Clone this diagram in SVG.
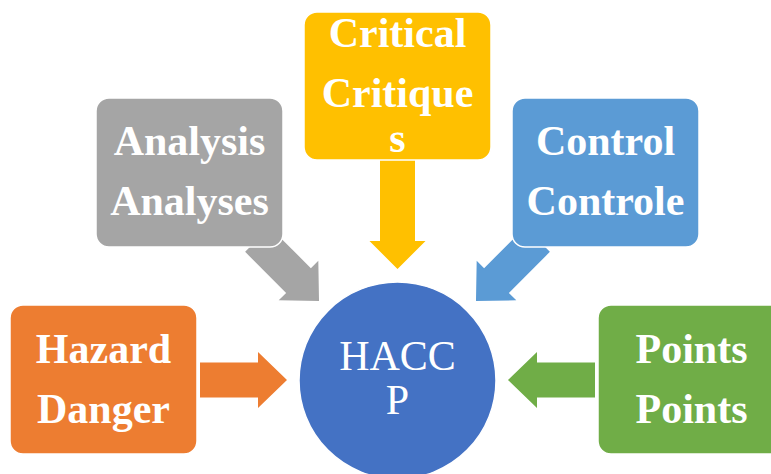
<svg xmlns="http://www.w3.org/2000/svg" width="771" height="474" viewBox="0 0 771 474">
  <style>
    .box { stroke: #ffffff; stroke-width: 1.5; }
    .lbl { font-family: "Liberation Serif", "Times New Roman", serif; font-weight: bold; font-size: 42px; fill: #ffffff; text-anchor: middle; }
    .hub { font-family: "Liberation Serif", "Times New Roman", serif; font-size: 42px; fill: #ffffff; text-anchor: middle; }
  </style>
  <defs>
    <!-- block arrow pointing along +x, 87 long -->
    <polygon id="blockArrow" points="0,-17.5 58,-17.5 58,-28 87,0 58,28 58,17.5 0,17.5"/>
  </defs>
  <rect width="771" height="474" fill="#ffffff"/>

  <g id="connectors">
    <use href="#blockArrow" fill="#ED7D31" transform="translate(200,380)"/>
    <use href="#blockArrow" fill="#70AD47" transform="translate(595,380) rotate(180)"/>
    <use href="#blockArrow" fill="#A5A5A5" transform="translate(257.5,239.5) rotate(45)"/>
    <use href="#blockArrow" fill="#5B9BD5" transform="translate(537.5,239.5) rotate(135)"/>
    <polygon fill="#FFC000" points="380,160 415,160 415,241 425.5,241 397.5,269 369.5,241 380,241"/>
  </g>

  <g id="hazard">
    <rect class="box" x="10" y="305" width="187" height="149" rx="13" fill="#ED7D31"/>
    <text class="lbl" x="103.5" y="363">Hazard</text>
    <text class="lbl" x="103.5" y="423">Danger</text>
  </g>

  <g id="analysis">
    <rect class="box" x="96" y="98" width="187" height="149" rx="13" fill="#A5A5A5"/>
    <text class="lbl" x="189.5" y="155">Analysis</text>
    <text class="lbl" x="189.5" y="215">Analyses</text>
  </g>

  <g id="critical">
    <rect class="box" x="304" y="12" width="187" height="148" rx="13" fill="#FFC000"/>
    <text class="lbl" x="397.5" y="47">Critical</text>
    <text class="lbl" x="397.5" y="107">Critique</text>
    <text class="lbl" x="397.5" y="152">s</text>
  </g>

  <g id="control">
    <rect class="box" x="512" y="98" width="187" height="149" rx="13" fill="#5B9BD5"/>
    <text class="lbl" x="605.5" y="155">Control</text>
    <text class="lbl" x="605.5" y="215">Controle</text>
  </g>

  <g id="points">
    <rect class="box" x="598" y="305" width="187" height="149" rx="13" fill="#70AD47"/>
    <text class="lbl" x="691.5" y="363">Points</text>
    <text class="lbl" x="691.5" y="423">Points</text>
  </g>

  <g id="haccp">
    <circle cx="397.5" cy="380.5" r="98.5" fill="#4472C4" stroke="#ffffff" stroke-width="1.5"/>
    <text class="hub" x="397.5" y="370">HACC</text>
    <text class="hub" x="397.5" y="414">P</text>
  </g>
</svg>
